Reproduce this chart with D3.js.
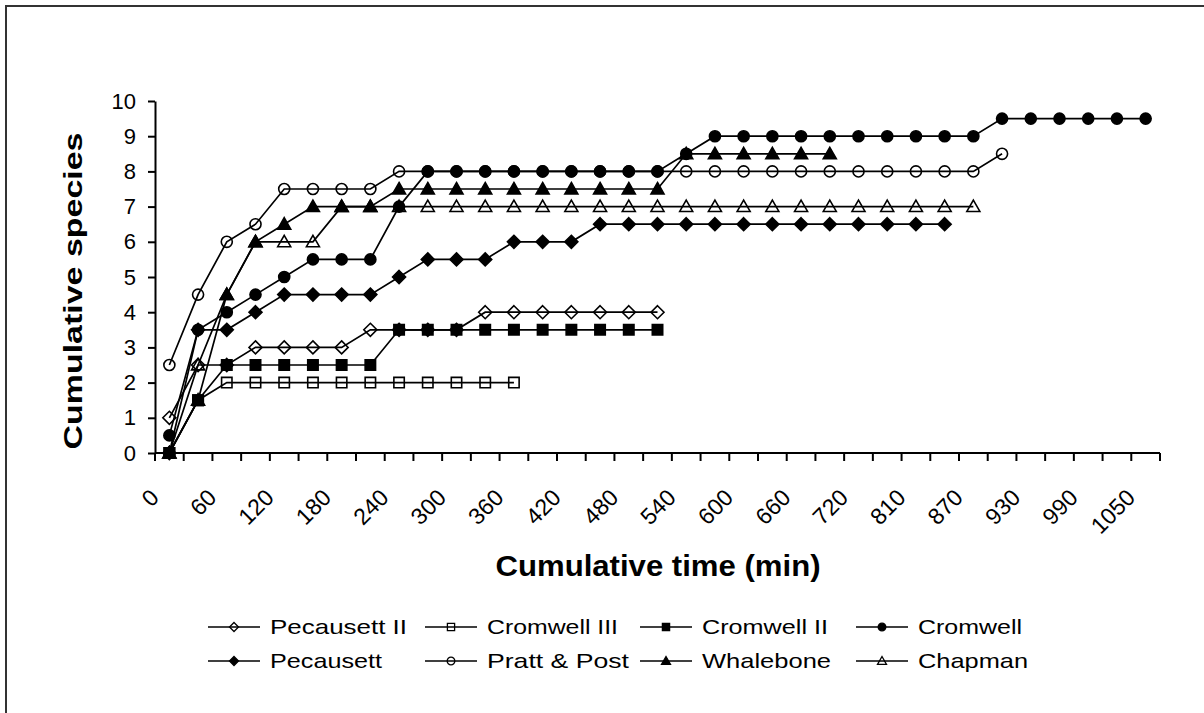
<!DOCTYPE html>
<html>
<head>
<meta charset="utf-8">
<script src="https://cdn.jsdelivr.net/npm/d3@7"></script>
<style>
  html, body { margin: 0; padding: 0; background: #fff; }
  svg text { font-family: "Liberation Sans", Arial, Helvetica, sans-serif; fill: #000; }
</style>
</head>
<body>
<svg id="chart" width="1204" height="713"></svg>
<script>
// ---- Data ----
const times = [0,30,60,90,120,150,180,210,240,270,300,330,360,390,420,450,480,510,540,570,600,630,660,690,720,780,810,840,870,900,930,960,990,1020,1050];
const yTicks = [0,1,2,3,4,5,6,7,8,9,10];
const seriesNames = ["Pecausett II","Cromwell III","Cromwell II","Cromwell","Pecausett","Pratt & Post","Whalebone","Chapman"];
const pecausett2 = [1,2.5,2.5,3,3,3,3,3.5,3.5,3.5,3.5,4,4,4,4,4,4,4];
const cromwell3  = [0,1.5,2,2,2,2,2,2,2,2,2,2,2];
const cromwell2  = [0,1.5,2.5,2.5,2.5,2.5,2.5,2.5,3.5,3.5,3.5,3.5,3.5,3.5,3.5,3.5,3.5,3.5];
const cromwell   = [0.5,3.5,4,4.5,5,5.5,5.5,5.5,7,8,8,8,8,8,8,8,8,8,8.5,9,9,9,9,9,9,9,9,9,9,9.5,9.5,9.5,9.5,9.5,9.5];
const pecausett  = [0,3.5,3.5,4,4.5,4.5,4.5,4.5,5,5.5,5.5,5.5,6,6,6,6.5,6.5,6.5,6.5,6.5,6.5,6.5,6.5,6.5,6.5,6.5,6.5,6.5];
const prattPost  = [2.5,4.5,6,6.5,7.5,7.5,7.5,7.5,8,8,8,8,8,8,8,8,8,8,8,8,8,8,8,8,8,8,8,8,8,8.5];
const whalebone  = [0,1.5,4.5,6,6.5,7,7,7,7.5,7.5,7.5,7.5,7.5,7.5,7.5,7.5,7.5,7.5,8.5,8.5,8.5,8.5,8.5,8.5];
const chapman    = [0,2.5,4.5,6,6,6,7,7,7,7,7,7,7,7,7,7,7,7,7,7,7,7,7,7,7,7,7,7,7];

const seriesValues = [pecausett2, cromwell3, cromwell2, cromwell, pecausett, prattPost, whalebone, chapman];
const markerShapes = ["diamond","square","square","circle","diamond","circle","triangle","triangle"];
const markerFilled = [false,false,true,true,true,false,true,false];
const legendWidths = [137,131,126,104,112,142,129,110];

// ---- Layout ----
const svg = d3.select("#chart");
const plot = {left: 155, right: 1160, top: 101, bottom: 453};

const x = d3.scaleBand().domain(times).range([plot.left, plot.right]).padding(0);
const y = d3.scaleLinear().domain([0, 10]).range([plot.bottom, plot.top]);
const bw = x.bandwidth();
const cx = t => x(t) + bw / 2;

// frame (top & left edges visible)
svg.append("rect").attr("x", 6).attr("y", 6).attr("width", 1220).attr("height", 730)
  .attr("fill", "none").attr("stroke", "#333").attr("stroke-width", 2);

function markerPath(shape, s) {
  if (shape === "diamond") return `M0,${-s}L${s},0L0,${s}L${-s},0Z`;
  if (shape === "square") { const h = s * 0.8; return `M${-h},${-h}H${h}V${h}H${-h}Z`; }
  if (shape === "triangle") return `M0,${-s}L${s},${s*0.75}L${-s},${s*0.75}Z`;
  const r = s * 0.85;
  return `M${r},0A${r},${r} 0 1,1 ${-r},0A${r},${r} 0 1,1 ${r},0Z`;
}

// ---- Y axis ----
const yAxis = d3.axisLeft(y).tickValues(yTicks).tickSizeInner(7).tickSizeOuter(0).tickPadding(12).tickFormat(d3.format("d"));
const gy = svg.append("g").attr("transform", `translate(${plot.left},0)`).call(yAxis);
gy.select(".domain").attr("stroke", "#000").attr("stroke-width", 2);
gy.selectAll(".tick line").attr("stroke", "#000").attr("stroke-width", 2);
gy.selectAll(".tick text").style("font-size", "22px").style("font-family", "'Liberation Sans', Arial, sans-serif");

// ---- X axis ----
const gx = svg.append("g");
gx.append("line").attr("x1", plot.left).attr("x2", plot.right).attr("y1", plot.bottom).attr("y2", plot.bottom)
  .attr("stroke", "#000").attr("stroke-width", 2);
const boundaries = times.map(t => x(t)).concat([plot.right]);
gx.selectAll("line.tk").data(boundaries).join("line").attr("class", "tk")
  .attr("x1", d => d).attr("x2", d => d).attr("y1", plot.bottom).attr("y2", plot.bottom + 8)
  .attr("stroke", "#000").attr("stroke-width", 2);
gx.selectAll("text.tl").data(times.filter((t, i) => i % 2 === 0)).join("text").attr("class", "tl")
  .attr("transform", d => `translate(${cx(d) - 9},${plot.bottom + 46}) rotate(-45)`)
  .attr("text-anchor", "end").style("font-size", "23px").text(d => d);

// ---- Titles ----
svg.append("text").attr("x", 658).attr("y", 576).attr("text-anchor", "middle")
  .attr("textLength", 325).attr("lengthAdjust", "spacingAndGlyphs")
  .style("font-size", "29px").style("font-weight", "bold").text("Cumulative time (min)");
svg.append("text").attr("transform", "translate(82,291) rotate(-90)").attr("text-anchor", "middle")
  .attr("textLength", 317).attr("lengthAdjust", "spacingAndGlyphs")
  .style("font-size", "26px").style("font-weight", "bold").text("Cumulative species");

// ---- Series ----
const line = d3.line().x((d, i) => cx(times[i])).y(d => y(d));
seriesValues.forEach((vals, si) => {
  const g = svg.append("g");
  g.append("path").attr("d", line(vals)).attr("fill", "none").attr("stroke", "#000").attr("stroke-width", 1.7);
  g.selectAll("path.m").data(vals).join("path").attr("class", "m")
    .attr("d", markerPath(markerShapes[si], 6.5))
    .attr("transform", (d, i) => `translate(${cx(times[i])},${y(d)})`)
    .attr("fill", markerFilled[si] ? "#000" : "none")
    .attr("stroke", "#000").attr("stroke-width", 1.6);
});

// ---- Legend ----
const colX = [208, 425, 640, 856];
const rowY = [627, 661];
seriesNames.forEach((name, i) => {
  const lx = colX[i % 4], ly = rowY[Math.floor(i / 4)];
  const g = svg.append("g");
  g.append("line").attr("x1", lx).attr("x2", lx + 52).attr("y1", ly).attr("y2", ly)
    .attr("stroke", "#000").attr("stroke-width", 1.6);
  g.append("path").attr("d", markerPath(markerShapes[i], 4.5))
    .attr("transform", `translate(${lx + 26},${ly})`)
    .attr("fill", markerFilled[i] ? "#000" : "#fff").attr("fill-opacity", markerFilled[i] ? 1 : 0)
    .attr("stroke", "#000").attr("stroke-width", 1.3);
  g.append("text").attr("x", lx + 62).attr("y", ly + 7)
    .attr("textLength", legendWidths[i]).attr("lengthAdjust", "spacingAndGlyphs")
    .style("font-size", "21px").text(name);
});
</script>
</body>
</html>
